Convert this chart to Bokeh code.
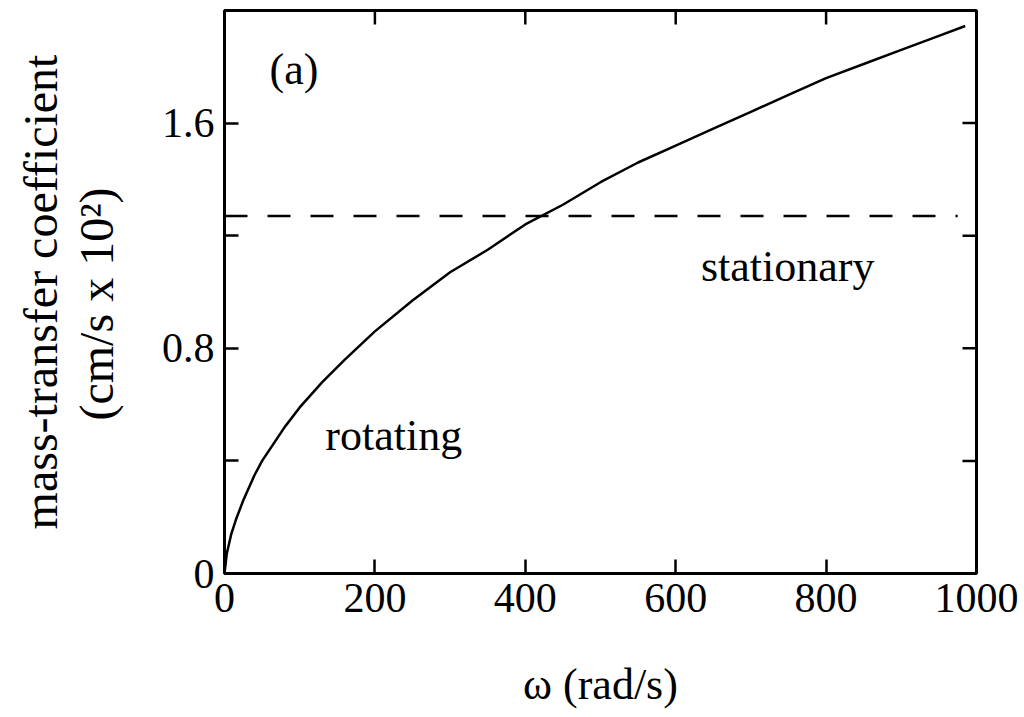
import math
from bokeh.plotting import figure
from bokeh.models import Range1d, FixedTicker
from bokeh.core.properties import value
from bokeh.embed import file_html
from bokeh.resources import INLINE

# ---- data ----
omega_rot = [0, 3, 9, 15, 25, 40, 50, 60, 80, 100, 130, 160, 200, 250, 300, 350,
             400, 450, 500, 550, 600, 650, 700, 750, 800, 850, 900, 950, 985]
k_rot = [0.0, 0.07, 0.14, 0.19, 0.26, 0.35, 0.40, 0.44, 0.52, 0.59, 0.68, 0.76,
         0.86, 0.97, 1.07, 1.15, 1.24, 1.31, 1.39, 1.46, 1.52, 1.58, 1.64, 1.70,
         1.76, 1.81, 1.86, 1.91, 1.945]
omega_stat = [0, 975]
k_stat = [1.27, 1.27]

x_ticks = [0, 200, 400, 600, 800, 1000]
y_major = [0, 0.8, 1.6]
y_minor = [0.4, 1.2]
y_labels = {0: "0", 0.8: "0.8", 1.6: "1.6"}
X_MIN, X_MAX = 0, 1000
Y_MIN, Y_MAX = 0, 2.0

FONT = "Liberation Serif"

p = figure(width=1024, height=717, output_backend="svg", toolbar_location=None,
           x_range=Range1d(X_MIN, X_MAX), y_range=Range1d(Y_MIN, Y_MAX),
           min_border_left=224, min_border_right=48, min_border_top=10,
           min_border_bottom=144)
p.background_fill_color = "white"
p.border_fill_color = "white"
p.outline_line_color = "black"
p.outline_line_width = 3
p.xgrid.visible = False
p.ygrid.visible = False

# curves
p.line(omega_rot, k_rot, line_color="black", line_width=2.5)
p.line(omega_stat, k_stat, line_color="black", line_width=2.5, line_dash="23 20")

# mirrored ticks on top and right (inward, screen-length rays from the frame edges)
p.ray(x=x_ticks, y=[Y_MAX] * len(x_ticks), length=14, length_units="screen",
      angle=-math.pi / 2, line_color="black", line_width=2.5)
y_all = y_major + y_minor
p.ray(x=[X_MAX] * len(y_all), y=y_all, length=14, length_units="screen",
      angle=math.pi, line_color="black", line_width=2.5)

# annotations
p.text(x=[60], y=[1.79], text=["(a)"], text_font=value(FONT), text_font_size="44px",
       text_align="left", text_baseline="middle", text_color="black")
p.text(x=[225], y=[0.49], text=["rotating"], text_font=value(FONT), text_font_size="44px",
       text_align="center", text_baseline="alphabetic", text_color="black")
p.text(x=[749], y=[1.092], text=["stationary"], text_font=value(FONT), text_font_size="44px",
       text_align="center", text_baseline="alphabetic", text_color="black")

def style_axis(ax):
    ax.axis_line_color = None
    ax.major_tick_in = 14
    ax.major_tick_out = 0
    ax.minor_tick_in = 14
    ax.minor_tick_out = 0
    ax.major_tick_line_width = 2.5
    ax.minor_tick_line_width = 2.5
    ax.major_tick_line_color = "black"
    ax.minor_tick_line_color = "black"
    ax.major_label_text_font = FONT
    ax.major_label_text_font_size = "42px"
    ax.major_label_text_color = "black"

# bottom axis
xa = p.xaxis[0]
xa.ticker = FixedTicker(ticks=x_ticks)
style_axis(xa)
xa.major_label_standoff = 10
xa.axis_label = "ω (rad/s)"
xa.axis_label_text_font = FONT
xa.axis_label_text_font_size = "44px"
xa.axis_label_text_font_style = "normal"
xa.axis_label_text_color = "black"
xa.axis_label_standoff = 45

# left axis
ya = p.yaxis[0]
ya.ticker = FixedTicker(ticks=y_major, minor_ticks=y_minor)
style_axis(ya)
ya.major_label_overrides = y_labels
ya.major_label_standoff = 10
ya.axis_label = "mass-transfer coefficient\n(cm/s  x  10²)"
ya.axis_label_text_font = FONT
ya.axis_label_text_font_size = "48px"
ya.axis_label_text_font_style = "normal"
ya.axis_label_text_color = "black"
ya.axis_label_text_line_height = 1.05
ya.axis_label_standoff = 36

open("out.html", "w").write(file_html(p, INLINE))
